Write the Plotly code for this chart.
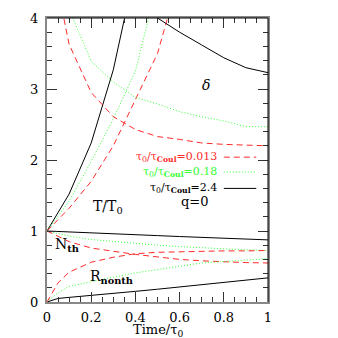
import plotly.graph_objects as go

# ---- data ----
# temperature T/T0 (rise off the top of the frame)
t_black_T = [0, 0.1, 0.2, 0.3, 0.4]
T_black = [1, 1.52, 2.24, 3.27, 4.7]
t_green_T = [0, 0.1, 0.2, 0.3, 0.4, 0.5]
T_green = [1, 1.42, 1.98, 2.58, 3.25, 4.5]
t_red_T = [0, 0.1, 0.2, 0.3, 0.4, 0.5, 0.6]
T_red = [1, 1.32, 1.7, 2.2, 2.85, 3.5, 4.6]

# delta
t_black_d = [0.4, 0.5, 0.6, 0.7, 0.8, 0.9, 1.0]
d_black = [4.2, 4.0, 3.8, 3.62, 3.44, 3.3, 3.23]
t_green_d = [0.1, 0.2, 0.3, 0.4, 0.5, 0.6, 0.7, 0.8, 0.9, 1.0]
d_green = [4.12, 3.39, 3.1, 2.88, 2.79, 2.68, 2.61, 2.55, 2.47, 2.47]
t_red_d = [0.05, 0.1, 0.2, 0.3, 0.4, 0.5, 0.6, 0.7, 0.8, 0.9, 1.0]
d_red = [4.4, 3.63, 2.95, 2.61, 2.43, 2.33, 2.29, 2.24, 2.22, 2.21, 2.20]

# N_th and R_nonth
t_full = [0, 0.1, 0.2, 0.3, 0.4, 0.5, 0.6, 0.7, 0.8, 0.9, 1.0]
N_black = [1, 0.985, 0.97, 0.958, 0.946, 0.935, 0.922, 0.91, 0.897, 0.886, 0.875]
N_green = [1, 0.93, 0.88, 0.85, 0.83, 0.80, 0.78, 0.76, 0.75, 0.735, 0.725]
N_red = [1, 0.85, 0.76, 0.71, 0.67, 0.635, 0.60, 0.58, 0.565, 0.555, 0.55]
t_R = [0, 0.05, 0.1, 0.2, 0.3, 0.4, 0.5, 0.6, 0.7, 0.8, 0.9, 1.0]
R_black = [0, 0.05, 0.065, 0.09, 0.12, 0.15, 0.18, 0.21, 0.245, 0.28, 0.31, 0.34]
R_green = [0, 0.13, 0.22, 0.29, 0.35, 0.41, 0.46, 0.51, 0.55, 0.57, 0.59, 0.61]
R_red = [0, 0.27, 0.42, 0.56, 0.63, 0.68, 0.70, 0.71, 0.715, 0.72, 0.72, 0.725]

RED, GREEN, BLACK = "#ff2a2a", "#33ff33", "#000000"
STY = {
    "red": dict(color=RED, width=1, dash="6px,4px"),
    "green": dict(color=GREEN, width=1, dash="1px,2px"),
    "black": dict(color=BLACK, width=1),
}

series = [
    (t_black_T, T_black, "black"), (t_green_T, T_green, "green"), (t_red_T, T_red, "red"),
    (t_black_d, d_black, "black"), (t_green_d, d_green, "green"), (t_red_d, d_red, "red"),
    (t_full, N_black, "black"), (t_full, N_green, "green"), (t_full, N_red, "red"),
    (t_R, R_black, "black"), (t_R, R_green, "green"), (t_R, R_red, "red"),
]

fig = go.Figure()
for x, y, c in series:
    fig.add_trace(go.Scatter(x=x, y=y, mode="lines", line=STY[c],
                             showlegend=False, hoverinfo="skip"))

SERIF = "DejaVu Serif"

def label(text, x, y, size=14, color="black", **kw):
    fig.add_annotation(text=text, x=x, y=y, showarrow=False,
                       font=dict(family=SERIF, size=size, color=color), **kw)

label("T/T<sub>0</sub>", 0.275, 1.34)
label("N<sub><b>th</b></sub>", 0.09, 0.80)
label("R<sub><b>nonth</b></sub>", 0.29, 0.35)
label("<i>δ</i>", 0.72, 3.06)
label("q=0", 0.67, 1.41, size=13)

# hand-drawn key: text on the left, line sample on the right
key = [("0.013", RED, "red", 2.04), ("0.18", GREEN, "green", 1.83), ("2.4", BLACK, "black", 1.6)]
for val, col, sty, ky in key:
    label(f"τ<sub>0</sub>/τ<sub><b>Coul</b></sub>={val}", 0.776, ky, size=11,
          color=col, xanchor="right")
    fig.add_shape(type="line", x0=0.80, x1=0.947, y0=ky, y1=ky, line=STY[sty])

# x-axis title placed by hand so the margins stay fixed
fig.add_annotation(text="Time/τ<sub>0</sub>", xref="x domain", yref="y domain",
                   x=0.5, y=0, yanchor="top", yshift=-18, showarrow=False,
                   font=dict(family=SERIF, size=13, color="black"))

# thin black top/right frame over gray left/bottom axes
fig.add_shape(type="line", xref="x domain", yref="y domain", x0=0, x1=1, y0=1, y1=1,
              line=dict(color="black", width=1))
fig.add_shape(type="line", xref="x domain", yref="y domain", x0=1, x1=1, y0=0, y1=1,
              line=dict(color="black", width=1))

axis_common = dict(showgrid=False, zeroline=False, showline=True, linecolor="#888888",
                   linewidth=2, mirror="ticks", ticks="inside", ticklen=10,
                   tickcolor="#333333", tickwidth=1, automargin=False,
                   tickfont=dict(family=SERIF, size=13, color="black"))

# page body has an 8px margin, so the figure is 330px and offset by that much
fig.update_layout(
    width=330, height=330,
    paper_bgcolor="white", plot_bgcolor="white",
    margin=dict(l=39, r=70, t=10, b=36),
    xaxis=dict(range=[0, 1], dtick=0.2, tickangle=0, ticklabelstandoff=2,
               minor=dict(dtick=0.05, ticks="inside", ticklen=5, tickcolor="#333333"),
               **axis_common),
    yaxis=dict(range=[0, 4], dtick=1, ticklabelstandoff=4,
               minor=dict(dtick=0.2, ticks="inside", ticklen=5, tickcolor="#333333"),
               **axis_common),
)

fig.write_html("out.html")
